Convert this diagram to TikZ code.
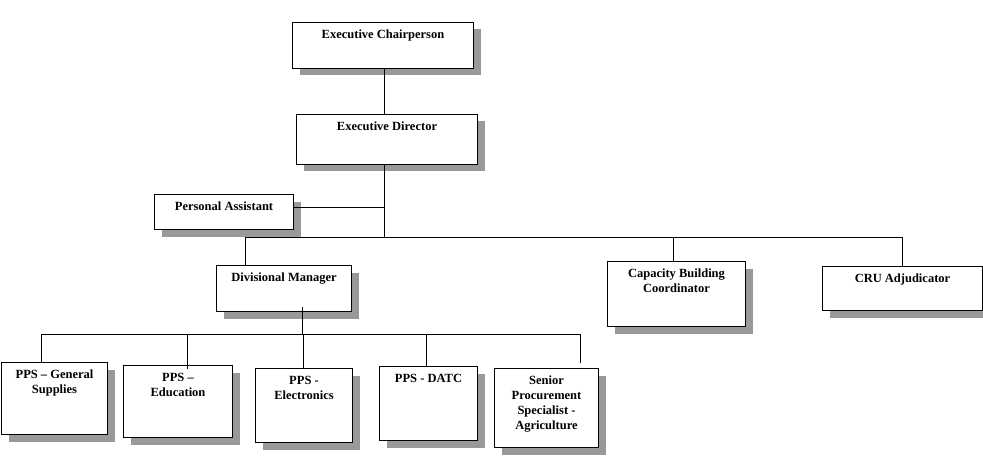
\documentclass[tikz,border=0pt]{standalone}
\usepackage{fontspec}
\setmainfont{Liberation Serif}
\usetikzlibrary{shadows}
\newcommand\bt[3]{\parbox[t][#2pt][t]{#1pt}{\centering\fontsize{12.5}{15}\selectfont\bfseries\vspace{5.5pt}\strut#3\par}}
\begin{document}
\begin{tikzpicture}[x=1pt,y=-1pt,
  box/.style={draw, fill=white, line width=1pt, inner sep=0pt, anchor=north west,
    drop shadow={shadow xshift=7pt, shadow yshift=-7pt, fill=black!40, opacity=1}},
  conn/.style={line width=1pt}]
\useasboundingbox (0,0) rectangle (983,476);
\node[box] (ec)   at (292,22)  {\bt{181}{46}{Executive Chairperson}};
\node[box] (ed)   at (296,114) {\bt{181}{50}{Executive Director}};
\node[box] (pa)   at (154,194) {\bt{139}{35}{Personal Assistant}};
\node[box] (dm)   at (216,265) {\bt{135}{46}{Divisional Manager}};
\node[box] (cbc)  at (607,261) {\bt{138}{65}{Capacity Building\\Coordinator}};
\node[box] (cru)  at (822,266) {\bt{160}{44}{CRU Adjudicator}};
\node[box] (gen)  at (1,362)   {\bt{106}{72}{PPS -- General\\Supplies}};
\node[box] (edu)  at (123,365) {\bt{109}{72}{PPS --\\Education}};
\node[box] (ele)  at (255,368) {\bt{97}{74}{PPS -\\Electronics}};
\node[box] (datc) at (379,366) {\bt{98}{74}{PPS - DATC}};
\node[box] (sen)  at (494,368) {\bt{104}{79}{Senior\\Procurement\\Specialist -\\Agriculture}};
\coordinate (j1) at (384,237);
\coordinate (bl) at (245,237);
\coordinate (br) at (902,237);
\coordinate (cb) at (673,237);
\coordinate (j2) at (302,334);
\coordinate (c1) at (41,334);
\coordinate (c2) at (187,334);
\coordinate (c3) at (303,334);
\coordinate (c4) at (426,334);
\coordinate (c5) at (580,334);
\draw[conn] (ec.south -| j1) -- (ed.north -| j1);
\draw[conn] (ed.south -| j1) -- ([yshift=-1pt]j1);
\draw[conn] ([yshift=5pt]pa.east) -- ([yshift=5pt]pa.east -| j1);
\draw[conn] (dm.north -| bl) -- (bl) -- (br) -- (cru.north -| br);
\draw[conn] (cb) -- (cbc.north -| cb);
\draw[conn] ([yshift=5pt]dm.south -| j2) -- (j2);
\draw[conn] (c1) -- (c5);
\draw[conn] (c1) -- (gen.north -| c1);
\draw[conn] (c2) -- ([yshift=-4pt]edu.north -| c2);
\draw[conn] (c3) -- (ele.north -| c3);
\draw[conn] (c4) -- (datc.north -| c4);
\draw[conn] (c5) -- ([yshift=5pt]sen.north -| c5);
\end{tikzpicture}
\end{document}
